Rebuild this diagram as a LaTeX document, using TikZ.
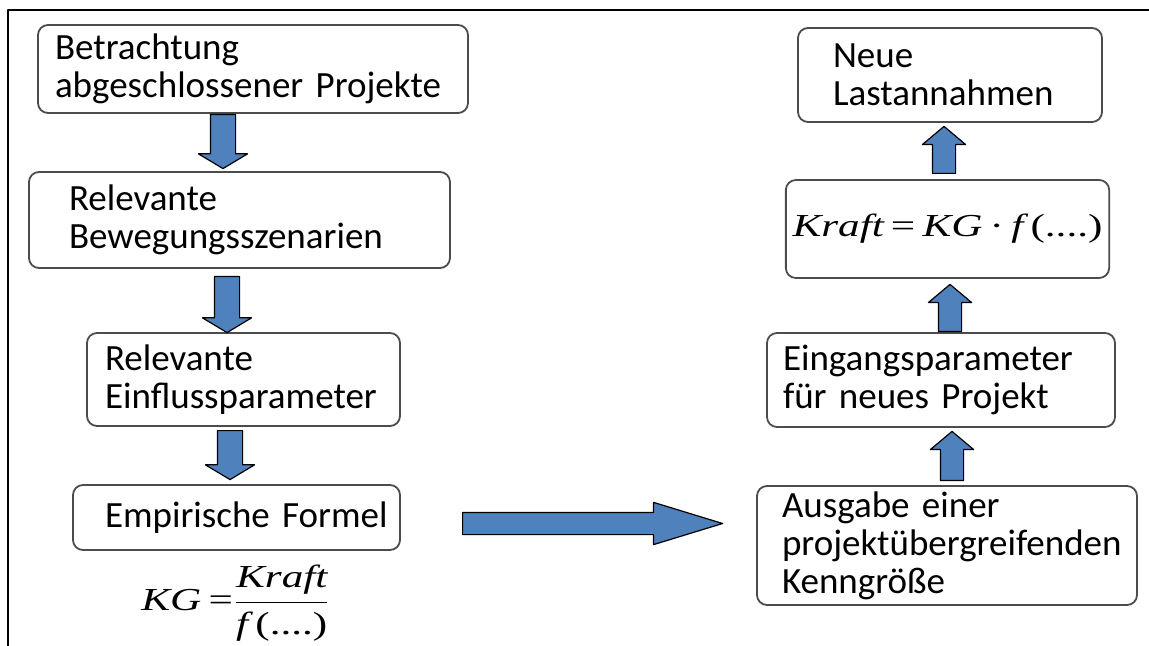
\documentclass[tikz,border=0pt]{standalone}
\usepackage{graphicx}
\usepackage{fontspec}
\setmainfont{Carlito}
\newfontfamily\formfont{Liberation Serif}
\usetikzlibrary{shapes.arrows}
\definecolor{arrowblue}{RGB}{79,129,189}
\tikzset{
  box/.style={draw=black!70, line width=.9pt, rounded corners=5pt, align=left, inner ysep=0pt, font=\fontsize{18.5}{19}\selectfont},
  blockarrow/.style={single arrow, draw=black, fill=arrowblue, line width=.6pt, anchor=tail},
  downarrow/.style={blockarrow, shape border rotate=270, inner sep=6pt, single arrow head extend=6pt, single arrow tip angle=118},
  uparrow/.style={blockarrow, shape border rotate=90, inner sep=5.5pt, single arrow head extend=5pt, single arrow tip angle=100},
  formula/.style={font=\formfont\fontsize{16}{19}\selectfont\itshape}
}
\begin{document}
\begin{tikzpicture}[x=.5pt, y=-.5pt, line cap=round, line join=round]
  \useasboundingbox (0,0) rectangle (1149,646);
  \draw[line width=.75pt] (8,646) -- (8,10) -- (1149,10);

  % left column
  \node[box, text width=198pt, inner xsep=8.5pt, minimum height=44pt] (b1) at (253,69) {Betrachtung\\abgeschlossener Projekte};
  \node[box, text width=170.5pt, inner xsep=20pt, minimum height=48pt] (b2) at (239.5,220) {Relevante\\Bewegungsszenarien};
  \node[box, text width=138.5pt, inner xsep=9pt, minimum height=46.5pt] (b3) at (243.5,379.5) {Relevante\\Einflussparameter};
  \node[box, text width=131.5pt, inner xsep=16pt, minimum height=32.5pt] (b4) at (236.5,517.5) {\mbox{Empirische Formel}};
  \node[formula] (f1) at (236,603) {\scalebox{1.35}[1]{KG\,{\upshape=}$\displaystyle\frac{\hbox{\formfont\itshape Kraft}}{\hbox{\formfont\itshape f\,\upshape(....)}}$}};

  \node[downarrow, minimum height=27pt] (a1) at (223,114) {};
  \node[downarrow, minimum height=28pt] (a2) at (227,276) {};
  \node[downarrow, minimum height=24.5pt] (a3) at (230,430) {};

  % transfer
  \node[blockarrow, inner sep=5.25pt, minimum height=130pt, single arrow head extend=5pt, single arrow tip angle=34] (a4) at (462,523.5) {};

  % right column
  \node[box, text width=158pt, inner xsep=8pt, minimum height=47pt] (r3) at (941,380) {Eingangsparameter\\für neues Projekt};
  \node[box, text width=165pt, inner xsep=12.5pt, minimum height=59.5pt] (r4) at (947,545.5) {Ausgabe einer\\projektübergreifenden\\Kenngröße};
  \node[box, formula, align=center, minimum width=159.5pt, minimum height=49pt] (r2) at (947.5,229) {\scalebox{1.35}[1]{Kraft\,{\upshape=}\,KG\,{\upshape·}\,f\,{\upshape(....)}}};
  \node[box, text width=117pt, inner xsep=17.5pt, minimum height=47pt] (r1) at (950,75) {Neue\\Lastannahmen};

  \node[uparrow, minimum height=24.5pt] (a5) at (952,481) {};
  \node[uparrow, minimum height=23.5pt] (a6) at (950,332) {};
  \node[uparrow, minimum height=23.5pt] (a7) at (944,174) {};
\end{tikzpicture}
\end{document}
